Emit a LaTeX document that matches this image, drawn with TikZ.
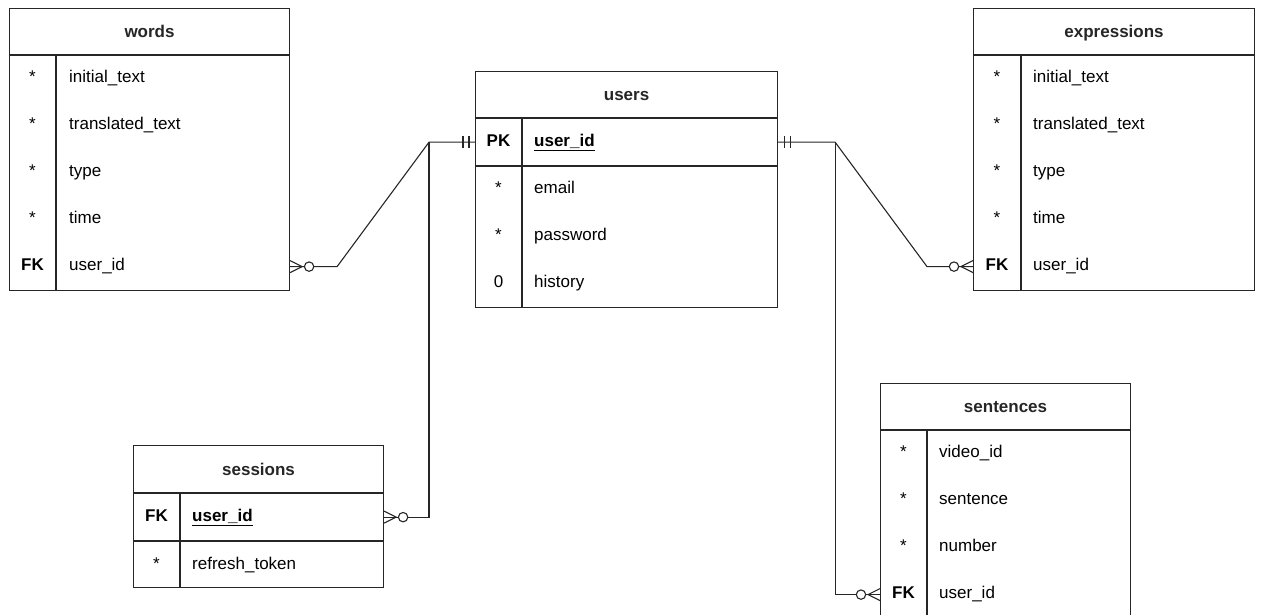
\documentclass[tikz,border=0pt]{standalone}
\usepackage{fontspec}
\setmainfont{Liberation Sans}
\usetikzlibrary{positioning,calc}

\newcommand\erfont{\fontsize{17}{20}\selectfont}

\tikzset{
  rel/.style={line width=1.1pt,black!85},
  tabhead/.style={draw,rel,anchor=north west,inner sep=0pt,minimum height=46pt,text height=15pt,text depth=3pt,font=\erfont\bfseries},
  tabbody/.style={draw,rel,anchor=north west,inner sep=0pt,minimum height=47pt},
  keycell/.style={anchor=center,inner sep=0pt,text height=12pt,text depth=3.5pt,font=\erfont},
  fieldcell/.style={anchor=west,inner sep=0pt,text height=12pt,text depth=3.5pt,font=\erfont},
  zeromany/.pic={
    \draw[rel] (0,-6) -- (12,0) -- (0,6);
    \draw[rel,fill=white] (19,0) circle[radius=4.7];
  },
  onlyone/.pic={
    \draw[rel] (6,-6) -- (6,6) (12,-6) -- (12,6);
  }
}

\begin{document}
\begin{tikzpicture}[x=1pt,y=-1pt]
  \useasboundingbox (0,0) rectangle (1261,614);

  % words
  \node[tabhead,minimum width=280pt] (words) at (9,8) {words};
  \node[tabbody,minimum width=280pt,minimum height=235pt] (words-b) at (words.south west) {};
  \draw[rel] ($(words-b.north west)+(47,0)$) -- ($(words-b.south west)+(47,0)$);
  \foreach \k/\f [count=\i] in {*/initial\_text,*/translated\_text,*/type,*/time,\textbf{FK}/user\_id}
  {
    \node[keycell] (words-k\i) at ($(words-b.north west)+(23.5,47*\i-23.5)$) {\k};
    \node[fieldcell] (words-f\i) at ($(words-b.north west)+(60,47*\i-23.5)$) {\f};
  }

  % users
  \node[tabhead,minimum width=302pt] (users) at (475,71) {users};
  \node[tabbody,minimum width=302pt] (users-pk) at (users.south west) {};
  \node[tabbody,minimum width=302pt,minimum height=141pt] (users-b) at (users-pk.south west) {};
  \draw[rel] ($(users-pk.north west)+(47,0)$) -- ($(users-b.south west)+(47,0)$);
  \node[keycell,font=\erfont\bfseries] (users-k0) at ($(users-pk.west)+(23.5,0)$) {PK};
  \node[fieldcell,font=\erfont\bfseries] (users-f0) at ($(users-pk.west)+(59,0)$) {\underline{user\_id}};
  \foreach \k/\f [count=\i] in {*/email,*/password,0/history}
  {
    \node[keycell] (users-k\i) at ($(users-b.north west)+(23.5,47*\i-23.5)$) {\k};
    \node[fieldcell] (users-f\i) at ($(users-b.north west)+(59,47*\i-23.5)$) {\f};
  }

  % expressions
  \node[tabhead,minimum width=281pt] (expr) at (973,8) {expressions};
  \node[tabbody,minimum width=281pt,minimum height=235pt] (expr-b) at (expr.south west) {};
  \draw[rel] ($(expr-b.north west)+(48,0)$) -- ($(expr-b.south west)+(48,0)$);
  \foreach \k/\f [count=\i] in {*/initial\_text,*/translated\_text,*/type,*/time,\textbf{FK}/user\_id}
  {
    \node[keycell] (expr-k\i) at ($(expr-b.north west)+(24,47*\i-23.5)$) {\k};
    \node[fieldcell] (expr-f\i) at ($(expr-b.north west)+(60,47*\i-23.5)$) {\f};
  }

  % sessions
  \node[tabhead,minimum width=250pt,minimum height=47pt] (sess) at (133,445) {sessions};
  \node[tabbody,minimum width=250pt] (sess-pk) at (sess.south west) {};
  \node[tabbody,minimum width=250pt,minimum height=46pt] (sess-b) at (sess-pk.south west) {};
  \draw[rel] ($(sess-pk.north west)+(47,0)$) -- ($(sess-b.south west)+(47,0)$);
  \node[keycell,font=\erfont\bfseries] (sess-k0) at ($(sess-pk.west)+(23.5,0)$) {FK};
  \node[fieldcell,font=\erfont\bfseries] (sess-f0) at ($(sess-pk.west)+(59,0)$) {\underline{user\_id}};
  \node[keycell] (sess-k1) at ($(sess-b.west)+(23.5,0)$) {*};
  \node[fieldcell] (sess-f1) at ($(sess-b.west)+(59,0)$) {refresh\_token};

  % sentences
  \node[tabhead,minimum width=250pt] (sent) at (880,383) {sentences};
  \node[tabbody,minimum width=250pt,minimum height=188pt] (sent-b) at (sent.south west) {};
  \draw[rel] ($(sent-b.north west)+(47,0)$) -- ($(sent-b.south west)+(47,0)$);
  \foreach \k/\f [count=\i] in {*/video\_id,*/sentence,*/number,\textbf{FK}/user\_id}
  {
    \node[keycell] (sent-k\i) at ($(sent-b.north west)+(23.5,47*\i-23.5)$) {\k};
    \node[fieldcell] (sent-f\i) at ($(sent-b.north west)+(59,47*\i-23.5)$) {\f};
  }

  % relations
  \coordinate (jl) at ($(users-pk.west)+(-46,0)$);
  \coordinate (jr) at ($(users-pk.east)+(57,0)$);
  \draw[rel] (users-pk.west) -- (jl) -- ($(words-f5 -| words-b.east)+(47,0)$) -- (words-f5 -| words-b.east);
  \draw[rel] (jl) |- (sess-f0 -| sess-pk.east);
  \draw[rel] (users-pk.east) -- (jr) -- ($(expr-f5 -| expr-b.west)+(-46,0)$) -- (expr-f5 -| expr-b.west);
  \draw[rel] (jr) |- (sent-f4 -| sent-b.west);

  \pic[rotate=180] at (users-pk.west) {onlyone};
  \pic at (users-pk.east) {onlyone};
  \pic at (words-f5 -| words-b.east) {zeromany};
  \pic at (sess-f0 -| sess-pk.east) {zeromany};
  \pic[rotate=180] at (expr-f5 -| expr-b.west) {zeromany};
  \pic[rotate=180] at (sent-f4 -| sent-b.west) {zeromany};
\end{tikzpicture}
\end{document}
